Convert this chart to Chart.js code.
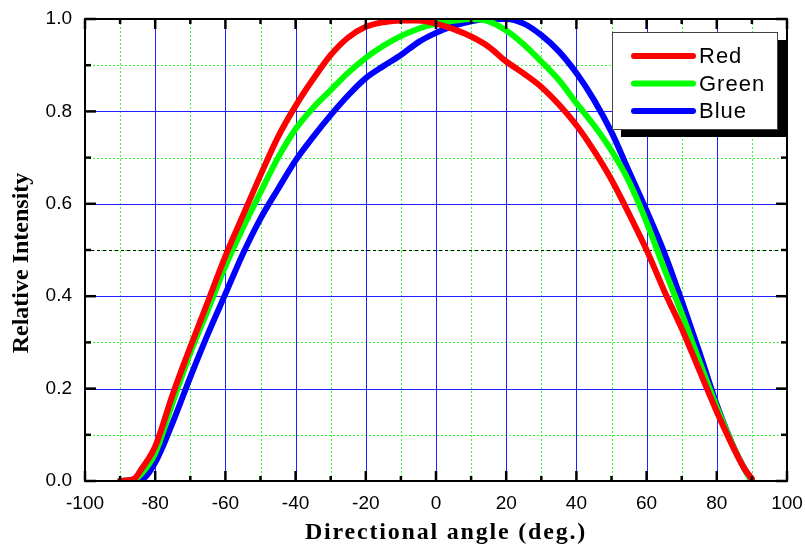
<!DOCTYPE html>
<html>
<head>
<meta charset="utf-8">
<script src="https://cdn.jsdelivr.net/npm/chart.js@4"></script>
<style>
  body { margin: 0; background: #fff; }
  #wrap { width: 805px; height: 544px; }
</style>
</head>
<body>
<div id="wrap"><canvas id="grafico"></canvas></div>
<script>
// angulos (graus) e intensidades
const angulos = [-90, -86, -84, -80, -75, -70, -65, -60, -55, -50, -45, -40, -35, -30, -25, -20, -15, -10, -5, 0,
                 5, 10, 15, 20, 25, 30, 35, 40, 45, 50, 55, 60, 65, 70, 75, 80, 85, 88, 90];
const vermelho = [0, 0.005, 0.025, 0.075, 0.188, 0.29, 0.388, 0.487, 0.575, 0.662, 0.745, 0.812, 0.87, 0.922, 0.96, 0.983, 0.993, 0.997, 0.997, 0.99,
                  0.978, 0.962, 0.94, 0.908, 0.882, 0.853, 0.815, 0.77, 0.715, 0.652, 0.578, 0.5, 0.412, 0.33, 0.24, 0.15, 0.068, 0.025, 0.005];
const verde = [0, 0.003, 0.015, 0.06, 0.17, 0.277, 0.37, 0.465, 0.548, 0.625, 0.70, 0.762, 0.808, 0.846, 0.884, 0.916, 0.942, 0.963, 0.979, 0.99,
               0.996, 1.0, 0.995, 0.975, 0.945, 0.908, 0.868, 0.818, 0.77, 0.715, 0.648, 0.56, 0.46, 0.363, 0.26, 0.16, 0.07, 0.025, 0];
const azul = [0, 0.002, 0.003, 0.04, 0.127, 0.225, 0.318, 0.405, 0.492, 0.568, 0.632, 0.694, 0.745, 0.792, 0.835, 0.872, 0.898, 0.922, 0.95, 0.97,
              0.985, 0.995, 1.0, 1.0, 0.99, 0.965, 0.93, 0.883, 0.825, 0.755, 0.67, 0.585, 0.495, 0.39, 0.28, 0.165, 0.07, 0.025, 0];

const nomes = ['Red', 'Green', 'Blue'];
const cores = ['#ff0000', '#00ff00', '#0000ff'];

const ticksX = [-100, -80, -60, -40, -20, 0, 20, 40, 60, 80, 100];
const ticksY = [0, 0.2, 0.4, 0.6, 0.8, 1.0];
const menoresX = [-90, -70, -50, -30, -10, 10, 30, 50, 70, 90];
const menoresY = [0.1, 0.3, 0.5, 0.7, 0.9];
const linhaMeia = 0.5;

const tituloX = 'Directional angle (deg.)';
const tituloY = 'Relative Intensity';

function pontos(valores) {
    return angulos.map((a, i) => ({ x: a, y: valores[i] }));
}

// grade, linha de 0.5, moldura e marcas para dentro
const gradePlugin = {
    id: 'grade',
    beforeDatasetsDraw(chart) {
        const { ctx, chartArea: a, scales: { x, y } } = chart;
        ctx.save();
        ctx.lineWidth = 1;
        // menores verdes pontilhadas
        ctx.strokeStyle = '#33ff33';
        ctx.setLineDash([2, 2]);
        menoresX.forEach(v => {
            const px = Math.round(x.getPixelForValue(v)) + 0.5;
            ctx.beginPath(); ctx.moveTo(px, a.top); ctx.lineTo(px, a.bottom); ctx.stroke();
        });
        menoresY.forEach(v => {
            const py = Math.round(y.getPixelForValue(v)) + 0.5;
            ctx.beginPath(); ctx.moveTo(a.left, py); ctx.lineTo(a.right, py); ctx.stroke();
        });
        // principais azuis
        ctx.setLineDash([]);
        ctx.strokeStyle = '#2020ff';
        ticksX.forEach(v => {
            const px = Math.round(x.getPixelForValue(v)) + 0.5;
            ctx.beginPath(); ctx.moveTo(px, a.top); ctx.lineTo(px, a.bottom); ctx.stroke();
        });
        ticksY.forEach(v => {
            const py = Math.round(y.getPixelForValue(v)) + 0.5;
            ctx.beginPath(); ctx.moveTo(a.left, py); ctx.lineTo(a.right, py); ctx.stroke();
        });
        // linha 0.5 preta tracejada
        ctx.strokeStyle = '#000';
        ctx.setLineDash([3, 3]);
        const pm = Math.round(y.getPixelForValue(linhaMeia)) + 0.5;
        ctx.beginPath(); ctx.moveTo(a.left, pm); ctx.lineTo(a.right, pm); ctx.stroke();
        ctx.restore();
    },
    afterDatasetsDraw(chart) {
        const { ctx, chartArea: a, scales: { x, y } } = chart;
        ctx.save();
        ctx.strokeStyle = '#000';
        ctx.lineWidth = 2.5;
        const marca = (vals, tam, eixo) => {
            vals.forEach(v => {
                if (eixo === 'x') {
                    const px = x.getPixelForValue(v);
                    ctx.beginPath(); ctx.moveTo(px, a.bottom); ctx.lineTo(px, a.bottom - tam); ctx.stroke();
                    ctx.beginPath(); ctx.moveTo(px, a.top); ctx.lineTo(px, a.top + tam); ctx.stroke();
                } else {
                    const py = y.getPixelForValue(v);
                    ctx.beginPath(); ctx.moveTo(a.left, py); ctx.lineTo(a.left + tam, py); ctx.stroke();
                    ctx.beginPath(); ctx.moveTo(a.right, py); ctx.lineTo(a.right - tam, py); ctx.stroke();
                }
            });
        };
        marca(ticksX, 10, 'x');
        marca(menoresX, 5, 'x');
        marca(ticksY, 11, 'y');
        marca(menoresY, 6, 'y');
        ctx.lineWidth = 2;
        ctx.strokeRect(a.left, a.top, a.right - a.left, a.bottom - a.top);

        // titulos dos eixos (serif negrito, um pouco espacados)
        ctx.fillStyle = '#000';
        ctx.font = 'bold 24px "Liberation Serif", "Times New Roman", serif';
        ctx.letterSpacing = '1.8px';
        ctx.textAlign = 'center';
        ctx.textBaseline = 'alphabetic';
        ctx.fillText(tituloX, 446, 539);
        ctx.letterSpacing = '0px';
        ctx.translate(28, 263);
        ctx.rotate(-Math.PI / 2);
        ctx.fillText(tituloY, 0, 0);
        ctx.restore();
    }
};

// legenda com sombra preta
const legendaPlugin = {
    id: 'legendaCaixa',
    afterDraw(chart) {
        const { ctx } = chart;
        const bx = 612, by = 32, bw = 165, bh = 97;
        ctx.save();
        ctx.fillStyle = '#000';
        ctx.fillRect(bx + 9, by + 8, bw, bh);
        ctx.fillStyle = '#fff';
        ctx.fillRect(bx, by, bw, bh);
        ctx.strokeStyle = '#444';
        ctx.lineWidth = 1;
        ctx.strokeRect(bx + 0.5, by + 0.5, bw, bh);
        ctx.font = '22px "Liberation Sans", Arial, sans-serif';
        ctx.letterSpacing = '1px';
        ctx.textBaseline = 'middle';
        chart.data.datasets.forEach((ds, i) => {
            const ly = 56 + i * 27.5;
            ctx.strokeStyle = ds.borderColor;
            ctx.lineWidth = 6;
            ctx.lineCap = 'round';
            ctx.beginPath(); ctx.moveTo(634, ly); ctx.lineTo(693, ly); ctx.stroke();
            ctx.fillStyle = '#000';
            ctx.fillText(ds.label, 699, ly + 1);
        });
        ctx.restore();
    }
};

const ctx = document.getElementById('grafico').getContext('2d');

const grafico = new Chart(ctx, {
    type: 'line',
    data: {
        datasets: [
            { label: nomes[0], data: pontos(vermelho), borderColor: cores[0] },
            { label: nomes[1], data: pontos(verde), borderColor: cores[1] },
            { label: nomes[2], data: pontos(azul), borderColor: cores[2] }
        ]
    },
    options: {
        responsive: true,
        maintainAspectRatio: false,
        animation: false,
        layout: { padding: { top: 19, right: 18, left: 0, bottom: 0 } },
        elements: {
            point: { radius: 0 },
            line: { borderWidth: 6, cubicInterpolationMode: 'monotone', borderCapStyle: 'round', borderJoinStyle: 'round' }
        },
        plugins: {
            legend: { display: false },
            tooltip: { enabled: false }
        },
        scales: {
            x: {
                type: 'linear',
                min: -100,
                max: 100,
                afterFit(s) { s.height = 63; s.paddingLeft = 0; s.paddingRight = 0; },
                afterBuildTicks(s) { s.ticks = ticksX.map(v => ({ value: v })); },
                grid: { display: false, drawTicks: false },
                border: { display: false },
                ticks: {
                    color: '#000',
                    padding: 11,
                    font: { family: '"Liberation Sans", Arial, sans-serif', size: 19 },
                    maxRotation: 0,
                    callback: v => String(v)
                }
            },
            y: {
                min: 0,
                max: 1,
                afterFit(s) { s.width = 85; s.paddingTop = 0; s.paddingBottom = 0; },
                afterBuildTicks(s) { s.ticks = ticksY.map(v => ({ value: v })); },
                grid: { display: false, drawTicks: false },
                border: { display: false },
                ticks: {
                    color: '#000',
                    padding: 13,
                    font: { family: '"Liberation Sans", Arial, sans-serif', size: 19 },
                    callback: v => Number(v).toFixed(1)
                }
            }
        }
    },
    plugins: [gradePlugin, legendaPlugin]
});
</script>
</body>
</html>
